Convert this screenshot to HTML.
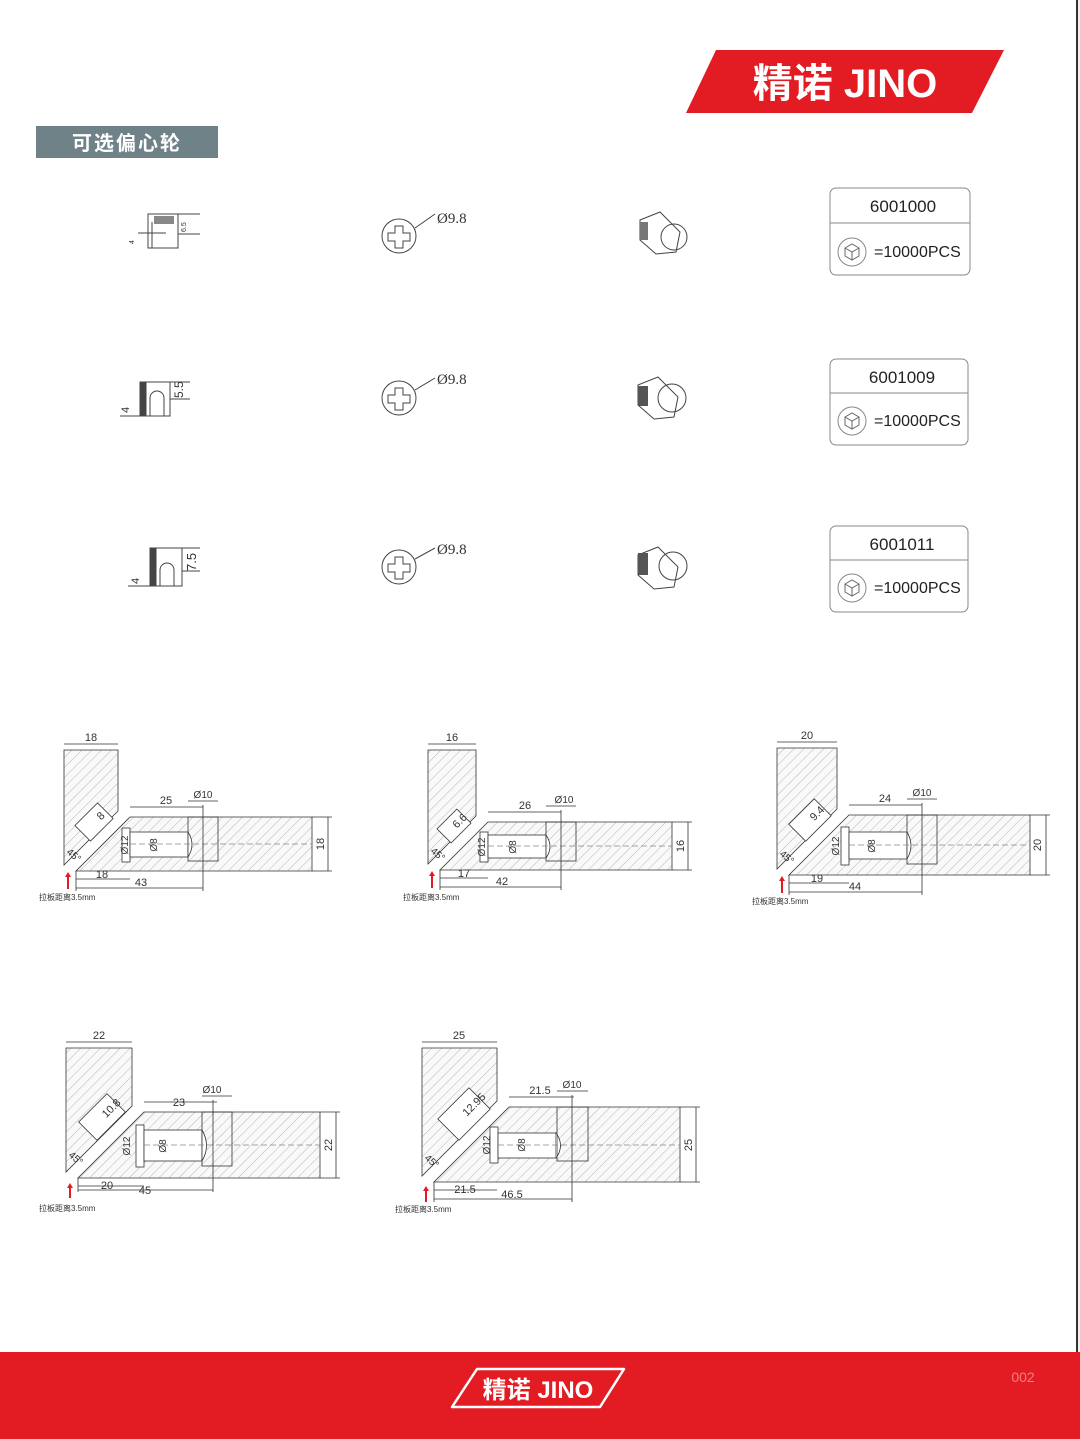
<!DOCTYPE html>
<html><head><meta charset="utf-8">
<style>
html,body{margin:0;padding:0;background:#fff;}
body{width:1080px;height:1439px;position:relative;overflow:hidden;font-family:"Liberation Sans","Noto Sans CJK SC",sans-serif;}
svg{position:absolute;left:0;top:0;}
</style></head><body>
<svg width="1080" height="1439" viewBox="0 0 1080 1439" xmlns="http://www.w3.org/2000/svg" font-family="Liberation Sans, Noto Sans CJK SC, sans-serif">
<defs>
<pattern id="h" width="7" height="7" patternUnits="userSpaceOnUse" patternTransform="rotate(45)">
<rect width="7" height="7" fill="#f9f9f9"/><line x1="0" y1="0" x2="0" y2="7" stroke="#b0b0b0" stroke-width="0.9"/>
</pattern>
</defs>
<rect x="1078" y="0" width="2" height="1352" fill="#eee"/>
<rect x="1076" y="0" width="2" height="1352" fill="#333"/>
<!-- header logo -->
<polygon points="716,50 1004,50 972,113 686,113" fill="#e31b23"/>
<text x="845" y="97" text-anchor="middle" fill="#fff" font-size="40" font-weight="bold" font-family="Liberation Sans, Noto Sans CJK SC, sans-serif">精诺 JINO</text>
<!-- section label -->
<rect x="36" y="126" width="182" height="32" fill="#6f8288"/>
<text x="127" y="150" text-anchor="middle" fill="#fff" font-size="20" font-weight="bold" letter-spacing="2">可选偏心轮</text>

<!-- product rows -->
<g stroke="#444" fill="none" stroke-width="1">
 <rect x="148" y="214" width="30" height="34"/><path d="M138,233 H166 M152,222 V248 M178,214 H200 M178,234 H200"/>
 <rect x="154" y="216" width="20" height="8" fill="#888" stroke="none"/>
 <rect x="140" y="382" width="30" height="34"/><path d="M150,416 V398 A7,7 0 0 1 164,398 V416"/><rect x="140" y="382" width="6" height="34" fill="#444"/><path d="M170,382 H190 M170,399 H190 M120,416 H150"/>
 <rect x="150" y="548" width="32" height="38"/><path d="M160,586 V570 A7,7 0 0 1 174,570 V586"/><rect x="150" y="548" width="6" height="38" fill="#444"/><path d="M182,548 H200 M182,571 H200 M128,586 H160"/>
 <circle cx="399" cy="236" r="17"/><path d="M395,226 h8 v7 h7 v8 h-7 v7 h-8 v-7 h-7 v-8 h7z M415,228 L435,214"/>
 <circle cx="399" cy="398" r="17"/><path d="M395,388 h8 v7 h7 v8 h-7 v7 h-8 v-7 h-7 v-8 h7z M415,390 L435,378"/>
 <circle cx="399" cy="567" r="17"/><path d="M395,557 h8 v7 h7 v8 h-7 v7 h-8 v-7 h-7 v-8 h7z M415,559 L435,548"/>
 <path d="M640,220 l20,-8 l20,20 l-4,20 l-20,2 l-16,-14z"/><circle cx="674" cy="237" r="13"/><rect x="640" y="222" width="8" height="18" fill="#777" stroke="none"/>
 <path d="M638,385 l20,-8 l20,20 l-4,20 l-20,2 l-16,-14z"/><circle cx="672" cy="398" r="14"/><rect x="638" y="386" width="10" height="20" fill="#555" stroke="none"/>
 <path d="M638,555 l20,-8 l20,20 l-4,20 l-20,2 l-16,-14z"/><circle cx="673" cy="566" r="14"/><rect x="638" y="553" width="10" height="22" fill="#555" stroke="none"/>
</g>
<g font-size="15" fill="#333" font-family="Liberation Serif, serif">
 <text x="437" y="223">Ø9.8</text><text x="437" y="384">Ø9.8</text><text x="437" y="554">Ø9.8</text>
</g>
<g font-size="7" fill="#333"><text x="186" y="232" transform="rotate(-90 186 232)">6.5</text><text x="183" y="398" font-size="12" transform="rotate(-90 183 398)">5.5</text><text x="196" y="571" font-size="13" transform="rotate(-90 196 571)">7.5</text><text x="134" y="244" transform="rotate(-90 134 244)">4</text><text x="129" y="413" font-size="11" transform="rotate(-90 129 413)">4</text><text x="139" y="584" font-size="11" transform="rotate(-90 139 584)">4</text></g>

<!-- boxes -->
<g fill="#fff" stroke="#888" stroke-width="1">
 <rect x="830" y="188" width="140" height="87" rx="6"/><line x1="830" y1="223" x2="970" y2="223"/><circle cx="852" cy="252" r="14"/>
 <rect x="830" y="359" width="138" height="86" rx="6"/><line x1="830" y1="393" x2="968" y2="393"/><circle cx="852" cy="421" r="14"/>
 <rect x="830" y="526" width="138" height="86" rx="6"/><line x1="830" y1="560" x2="968" y2="560"/><circle cx="852" cy="588" r="14"/>
</g>
<g font-size="17" fill="#222">
 <text x="903" y="212" text-anchor="middle">6001000</text><text x="874" y="257" font-size="16">=10000PCS</text>
 <text x="902" y="383" text-anchor="middle">6001009</text><text x="874" y="426" font-size="16">=10000PCS</text>
 <text x="902" y="550" text-anchor="middle">6001011</text><text x="874" y="593" font-size="16">=10000PCS</text>
</g>
<g stroke="#666" fill="none" stroke-width="1"><path d="M845,248 l7,-4 l7,4 v8 l-7,4 l-7,-4z M845,248 l7,4 l7,-4 M852,252 v8"/><path d="M845,417 l7,-4 l7,4 v8 l-7,4 l-7,-4z M845,417 l7,4 l7,-4 M852,421 v8"/><path d="M845,584 l7,-4 l7,4 v8 l-7,4 l-7,-4z M845,584 l7,4 l7,-4 M852,588 v8"/></g>

<!-- Diagram 1 -->
<g transform="translate(64,817)" stroke="#333" stroke-width="0.8" font-size="11">
 <polygon points="0,-67 54,-67 54,-6 0,48" fill="url(#h)"/>
 <polygon points="66,0 248,0 248,54 12,54" fill="url(#h)"/>
 <rect x="58" y="11" width="8" height="34" fill="#fff"/>
 <rect x="66" y="15" width="58" height="25" fill="#fff"/><path d="M124,15 q8,12.5 0,25" fill="#fff"/>
 <rect x="124" y="0" width="30" height="44" fill="none"/>
 <line x1="66" y1="27" x2="248" y2="27" stroke-dasharray="6,3" stroke="#888"/>
 <g transform="translate(30,5) rotate(-45)"><rect x="-16" y="-11" width="32" height="22" fill="#fff"/><text x="6" y="4" stroke="none" fill="#333">8</text></g>
 <path d="M0,-73 H54 M66,-10 H139 M124,-16 H154 M264,0 V54 M248,0 H268 M248,54 H268 M12,62 H66 M12,71 H139 M12,54 V74 M139,-12 V74" fill="none"/>
 <g stroke="none" fill="#333"><text x="27" y="-76" text-anchor="middle">18</text><text x="102" y="-13" text-anchor="middle">25</text><text x="139" y="-19" text-anchor="middle" font-size="10">Ø10</text>
 <text x="260" y="27" text-anchor="middle" transform="rotate(-90 260 27)">18</text><text x="38" y="61" text-anchor="middle">18</text><text x="77" y="69" text-anchor="middle">43</text>
 <text x="64" y="28" text-anchor="middle" transform="rotate(-90 64 28)" font-size="10">Ø12</text><text x="93" y="28" text-anchor="middle" transform="rotate(-90 93 28)" font-size="10">Ø8</text>
 <text x="2" y="36" font-size="10" transform="rotate(40 2 36)">45°</text><text x="-25" y="83" font-size="8">拉板距离3.5mm</text></g>
 <path d="M4,72 V58" stroke="#e31b23" stroke-width="2"/><path d="M1,60 l3,-5 l3,5z" fill="#e31b23" stroke="none"/>
</g>

<!-- Diagram 2 -->
<g transform="translate(428,822)" stroke="#333" stroke-width="0.8" font-size="11">
 <polygon points="0,-72 48,-72 48,-6 0,42" fill="url(#h)"/>
 <polygon points="60,0 244,0 244,48 12,48" fill="url(#h)"/>
 <rect x="52" y="10" width="8" height="30" fill="#fff"/>
 <rect x="60" y="13" width="58" height="23" fill="#fff"/><path d="M118,13 q8,11.5 0,23" fill="#fff"/>
 <rect x="118" y="0" width="30" height="39" fill="none"/>
 <line x1="60" y1="24" x2="244" y2="24" stroke-dasharray="6,3" stroke="#888"/>
 <g transform="translate(26,4) rotate(-45)"><rect x="-14" y="-10" width="28" height="20" fill="#fff"/><text x="0" y="4" stroke="none" fill="#333">6.6</text></g>
 <path d="M0,-78 H48 M60,-10 H133 M118,-16 H148 M260,0 V48 M244,0 H264 M244,48 H264 M12,56 H60 M12,65 H133 M12,48 V68 M133,-12 V68" fill="none"/>
 <g stroke="none" fill="#333"><text x="24" y="-81" text-anchor="middle">16</text><text x="97" y="-13" text-anchor="middle">26</text><text x="136" y="-19" text-anchor="middle" font-size="10">Ø10</text>
 <text x="256" y="24" text-anchor="middle" transform="rotate(-90 256 24)">16</text><text x="36" y="55" text-anchor="middle">17</text><text x="74" y="63" text-anchor="middle">42</text>
 <text x="57" y="25" text-anchor="middle" transform="rotate(-90 57 25)" font-size="10">Ø12</text><text x="88" y="25" text-anchor="middle" transform="rotate(-90 88 25)" font-size="10">Ø8</text>
 <text x="2" y="30" font-size="10" transform="rotate(40 2 30)">45°</text><text x="-25" y="78" font-size="8">拉板距离3.5mm</text></g>
 <path d="M4,66 V52" stroke="#e31b23" stroke-width="2"/><path d="M1,54 l3,-5 l3,5z" fill="#e31b23" stroke="none"/>
</g>

<!-- Diagram 3 -->
<g transform="translate(777,815)" stroke="#333" stroke-width="0.8" font-size="11">
 <polygon points="0,-67 60,-67 60,-6 0,54" fill="url(#h)"/>
 <polygon points="72,0 253,0 253,60 12,60" fill="url(#h)"/>
 <rect x="64" y="12" width="8" height="38" fill="#fff"/>
 <rect x="72" y="17" width="58" height="27" fill="#fff"/><path d="M130,17 q8,13.5 0,27" fill="#fff"/>
 <rect x="130" y="0" width="30" height="49" fill="none"/>
 <line x1="72" y1="30" x2="253" y2="30" stroke-dasharray="6,3" stroke="#888"/>
 <g transform="translate(33,5) rotate(-45)"><rect x="-18" y="-12" width="36" height="24" fill="#fff"/><text x="2" y="4" stroke="none" fill="#333">9.4</text></g>
 <path d="M0,-73 H60 M72,-10 H145 M130,-16 H160 M269,0 V60 M253,0 H273 M253,60 H273 M12,68 H72 M12,77 H145 M12,60 V80 M145,-12 V80" fill="none"/>
 <g stroke="none" fill="#333"><text x="30" y="-76" text-anchor="middle">20</text><text x="108" y="-13" text-anchor="middle">24</text><text x="145" y="-19" text-anchor="middle" font-size="10">Ø10</text>
 <text x="264" y="30" text-anchor="middle" transform="rotate(-90 264 30)">20</text><text x="40" y="67" text-anchor="middle">19</text><text x="78" y="75" text-anchor="middle">44</text>
 <text x="62" y="31" text-anchor="middle" transform="rotate(-90 62 31)" font-size="10">Ø12</text><text x="98" y="31" text-anchor="middle" transform="rotate(-90 98 31)" font-size="10">Ø8</text>
 <text x="2" y="40" font-size="10" transform="rotate(40 2 40)">45°</text><text x="-25" y="89" font-size="8">拉板距离3.5mm</text></g>
 <path d="M5,78 V64" stroke="#e31b23" stroke-width="2"/><path d="M2,66 l3,-5 l3,5z" fill="#e31b23" stroke="none"/>
</g>

<!-- Diagram 4 -->
<g transform="translate(66,1112)" stroke="#333" stroke-width="0.8" font-size="11">
 <polygon points="0,-64 66,-64 66,-6 0,60" fill="url(#h)"/>
 <polygon points="78,0 254,0 254,66 12,66" fill="url(#h)"/>
 <rect x="70" y="13" width="8" height="42" fill="#fff"/>
 <rect x="78" y="18" width="58" height="31" fill="#fff"/><path d="M136,18 q9,15.5 0,31" fill="#fff"/>
 <rect x="136" y="0" width="30" height="54" fill="none"/>
 <line x1="78" y1="33" x2="254" y2="33" stroke-dasharray="6,3" stroke="#888"/>
 <g transform="translate(36,5) rotate(-45)"><rect x="-20" y="-13" width="40" height="26" fill="#fff"/><text x="2" y="4" stroke="none" fill="#333">10.8</text></g>
 <path d="M0,-70 H66 M78,-10 H151 M136,-16 H166 M270,0 V66 M254,0 H274 M254,66 H274 M12,74 H78 M12,78 H147 M12,66 V80 M147,-12 V80" fill="none"/>
 <g stroke="none" fill="#333"><text x="33" y="-73" text-anchor="middle">22</text><text x="113" y="-6" text-anchor="middle">23</text><text x="146" y="-19" text-anchor="middle" font-size="10">Ø10</text>
 <text x="266" y="33" text-anchor="middle" transform="rotate(-90 266 33)">22</text><text x="41" y="77" text-anchor="middle">20</text><text x="79" y="82" text-anchor="middle">45</text>
 <text x="64" y="34" text-anchor="middle" transform="rotate(-90 64 34)" font-size="10">Ø12</text><text x="100" y="34" text-anchor="middle" transform="rotate(-90 100 34)" font-size="10">Ø8</text>
 <text x="2" y="44" font-size="10" transform="rotate(40 2 44)">45°</text><text x="-27" y="99" font-size="8">拉板距离3.5mm</text></g>
 <path d="M4,86 V74" stroke="#e31b23" stroke-width="2"/><path d="M1,76 l3,-5 l3,5z" fill="#e31b23" stroke="none"/>
</g>

<!-- Diagram 5 -->
<g transform="translate(422,1107)" stroke="#333" stroke-width="0.8" font-size="11">
 <polygon points="0,-59 75,-59 75,-6 0,69" fill="url(#h)"/>
 <polygon points="87,0 258,0 258,75 12,75" fill="url(#h)"/>
 <rect x="68" y="20" width="8" height="36" fill="#fff"/>
 <rect x="76" y="26" width="58" height="25" fill="#fff"/><path d="M134,26 q9,12.5 0,25" fill="#fff"/>
 <rect x="135" y="0" width="31" height="54" fill="none"/>
 <line x1="76" y1="38" x2="258" y2="38" stroke-dasharray="6,3" stroke="#888"/>
 <g transform="translate(42,7) rotate(-45)"><rect x="-22" y="-15" width="44" height="30" fill="#fff"/><text x="0" y="4" stroke="none" fill="#333">12.95</text></g>
 <path d="M0,-65 H75 M87,-10 H152 M135,-16 H166 M274,0 V75 M258,0 H278 M258,75 H278 M12,83 H75 M12,92 H150 M12,75 V95 M150,-12 V95" fill="none"/>
 <g stroke="none" fill="#333"><text x="37" y="-68" text-anchor="middle">25</text><text x="118" y="-13" text-anchor="middle">21.5</text><text x="150" y="-19" text-anchor="middle" font-size="10">Ø10</text>
 <text x="270" y="38" text-anchor="middle" transform="rotate(-90 270 38)">25</text><text x="43" y="86" text-anchor="middle">21.5</text><text x="90" y="91" text-anchor="middle">46.5</text>
 <text x="68" y="38" text-anchor="middle" transform="rotate(-90 68 38)" font-size="10">Ø12</text><text x="103" y="38" text-anchor="middle" transform="rotate(-90 103 38)" font-size="10">Ø8</text>
 <text x="2" y="52" font-size="10" transform="rotate(40 2 52)">45°</text><text x="-27" y="105" font-size="8">拉板距离3.5mm</text></g>
 <path d="M4,95 V82" stroke="#e31b23" stroke-width="2"/><path d="M1,84 l3,-5 l3,5z" fill="#e31b23" stroke="none"/>
</g>

<!-- footer -->
<rect x="0" y="1352" width="1080" height="87" fill="#e31b23"/>
<polygon points="477,1369 624,1369 600,1407 452,1407" fill="none" stroke="#fff" stroke-width="2.5" stroke-linejoin="round"/>
<text x="538" y="1398" text-anchor="middle" fill="#fff" font-size="24" font-weight="bold">精诺 JINO</text>
<text x="1023" y="1382" text-anchor="middle" fill="#f08080" font-size="14">002</text>
</svg>
</body></html>
